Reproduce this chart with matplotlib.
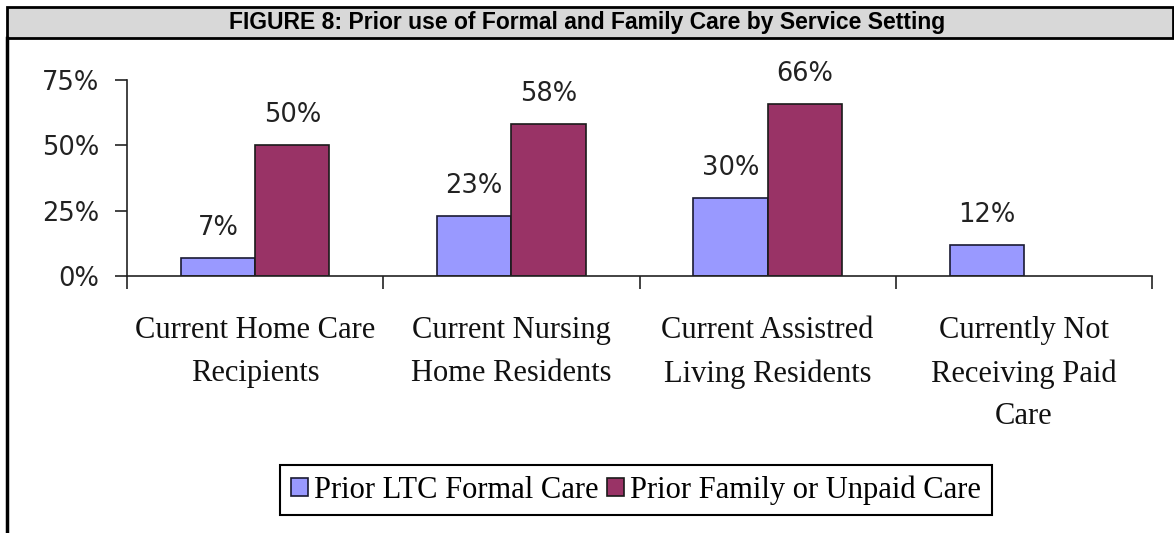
import numpy as np
from matplotlib import pyplot as plt
from matplotlib import font_manager
from matplotlib.patches import Rectangle
from matplotlib.lines import Line2D

categories = ['Current Home Care\nRecipients', 'Current Nursing\nHome Residents',
              'Current Assistred\nLiving Residents', 'Currently Not\nReceiving Paid\nCare']
formal = [7, 23, 30, 12]
family = [50, 58, 66, np.nan]
series_names = ['Prior LTC Formal Care', 'Prior Family or Unpaid Care']
title = 'FIGURE 8: Prior use of Formal and Family Care by Service Setting'

W, H = 1174, 533
fig = plt.figure(figsize=(W / 100, H / 100), dpi=100)

# title bar + left frame line
fig.patches.append(Rectangle((7 / W, 1 - 38 / H), (W - 8) / W, 31 / H, transform=fig.transFigure,
                             facecolor='#d8d8d8', edgecolor='black', linewidth=2))
fig.lines.append(Line2D([7 / W, 7 / W], [0, 1 - 38 / H], transform=fig.transFigure,
                        color='black', linewidth=2.5))

# narrow bold face if there is one, else plain Liberation Sans a bit smaller
names = {f.name for f in font_manager.fontManager.ttflist}
if 'Liberation Sans Narrow' in names:
    tfam, tsize = 'Liberation Sans Narrow', 19.5
else:
    tfam, tsize = 'Liberation Sans', 16.5
fig.text(0.5, 1 - 22 / H, title, ha='center', va='center', fontsize=tsize,
         fontweight='bold', family=tfam)

ax = fig.add_axes([127 / W, 1 - 276 / H, (1152 - 127) / W, (276 - 80) / H])
x = np.arange(len(categories))
w = 0.29
b1 = ax.bar(x - w / 2, formal, w, color='#9999ff', edgecolor='#1a1a33', linewidth=1.2,
            label=series_names[0])
b2 = ax.bar(x + w / 2, family, w, color='#993366', edgecolor='#1a1a1a', linewidth=1.2,
            label=series_names[1])

for bars, vals in [(b1, formal), (b2, family)]:
    for r, v in zip(bars, vals):
        if np.isnan(v):
            continue
        ax.annotate(f'{v:.0f}%', (r.get_x() + r.get_width() / 2, v), xytext=(0, 17),
                    textcoords='offset pixels', ha='center', va='bottom',
                    fontsize=18.5, color='#222222', family='DejaVu Sans')

ax.set_xlim(-0.5, len(categories) - 0.5)
ax.set_ylim(0, 75)
ax.set_yticks([0, 25, 50, 75])
ax.set_yticklabels(['0%', '25%', '50%', '75%'], fontsize=18.5, color='#222222', family='DejaVu Sans')
ax.set_xticks(np.arange(len(categories) + 1) - 0.5)
ax.set_xticklabels([])
ax.tick_params(axis='both', direction='out', length=9, width=1.2, color='#222222')
ax.tick_params(axis='y', pad=11)
for s in ['top', 'right']:
    ax.spines[s].set_visible(False)
for s in ['left', 'bottom']:
    ax.spines[s].set_linewidth(1.2)
    ax.spines[s].set_color('#222222')

for i, c in enumerate(categories):
    ax.text(i, -0.205, c, transform=ax.get_xaxis_transform(), ha='center', va='top',
            fontsize=22, family='Liberation Serif', linespacing=1.62, color='#111111')

leg = ax.legend(loc='center', bbox_to_anchor=(636 / W, 1 - 490 / H), bbox_transform=fig.transFigure,
                ncol=2, frameon=True, fancybox=False, edgecolor='black', framealpha=1,
                prop={'family': 'Liberation Serif', 'size': 22}, handlelength=0.55, handleheight=0.55,
                handletextpad=0.2, columnspacing=0.3, borderpad=0.35)
leg.get_frame().set_linewidth(1.5)

fig.savefig('out.png', dpi=100)
